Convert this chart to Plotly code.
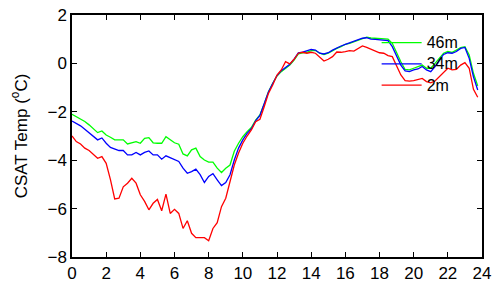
import numpy as np
import plotly.graph_objects as go

hours = [i * 0.25 for i in range(96)]

t46 = [-2.1, -2.2, -2.31, -2.4, -2.54, -2.72, -2.86, -2.79, -2.96, -3.05, -3.16, -3.16,
       -3.16, -3.33, -3.28, -3.23, -3.3, -3.1, -3.07, -3.28, -3.3, -3.3, -3.03, -3.16,
       -3.28, -3.34, -3.74, -3.82, -3.57, -3.5, -3.85, -3.99, -4.08, -4.08, -4.33, -4.51,
       -4.33, -4.2, -3.63, -3.3, -3.03, -2.82, -2.65, -2.34, -2.13, -1.68, -1.17, -0.82,
       -0.52, -0.34, -0.2, -0.07, 0.14, 0.39, 0.44, 0.46, 0.53, 0.53, 0.42, 0.37,
       0.42, 0.53, 0.62, 0.69, 0.79, 0.83, 0.9, 0.97, 1.04, 1.08, 1.05, 1.04,
       1.02, 1.04, 1.0, 0.83, 0.42, 0.07, -0.25, -0.27, -0.2, -0.13, -0.07, -0.2,
       -0.2, 0.0, 0.21, 0.42, 0.49, 0.46, 0.55, 0.65, 0.69, 0.35, -0.41, -0.93]

t34 = [-2.38, -2.47, -2.58, -2.72, -2.86, -3.03, -3.16, -3.08, -3.3, -3.47, -3.55, -3.6,
       -3.6, -3.78, -3.78, -3.68, -3.78, -3.68, -3.62, -3.78, -3.78, -3.96, -3.82, -3.89,
       -3.96, -4.05, -4.33, -4.54, -4.47, -4.37, -4.6, -4.92, -4.67, -4.56, -4.81, -5.05,
       -4.92, -4.6, -3.99, -3.5, -3.16, -2.89, -2.7, -2.37, -2.15, -1.7, -1.18, -0.83,
       -0.5, -0.3, -0.17, -0.04, 0.18, 0.44, 0.47, 0.53, 0.58, 0.55, 0.42, 0.39,
       0.44, 0.55, 0.65, 0.72, 0.79, 0.86, 0.9, 0.97, 1.04, 1.06, 1.0, 0.99,
       0.97, 0.97, 0.94, 0.69, 0.31, -0.07, -0.31, -0.34, -0.27, -0.23, -0.13, -0.27,
       -0.34, -0.13, 0.14, 0.37, 0.44, 0.42, 0.49, 0.62, 0.66, 0.21, -0.55, -1.1]

t2 = [-3.0, -3.23, -3.33, -3.5, -3.6, -3.74, -3.92, -3.85, -4.13, -4.8, -5.6, -5.57,
      -5.1, -4.95, -4.75, -4.95, -5.43, -5.7, -6.05, -5.78, -5.62, -6.09, -5.4, -6.2,
      -6.03, -6.2, -6.82, -6.5, -7.02, -7.2, -7.2, -7.2, -7.33, -6.82, -6.58, -5.92,
      -5.57, -4.88, -4.2, -3.7, -3.3, -3.0, -2.75, -2.41, -2.31, -1.79, -1.24, -0.89,
      -0.48, -0.27, 0.07, -0.02, 0.17, 0.42, 0.46, 0.42, 0.46, 0.42, 0.25, 0.1,
      0.17, 0.28, 0.47, 0.46, 0.49, 0.53, 0.51, 0.6, 0.72, 0.66, 0.58, 0.51,
      0.44, 0.42, 0.32, 0.28, -0.13, -0.48, -0.71, -0.73, -0.71, -0.66, -0.62, -0.75,
      -0.8, -0.73, -0.55, -0.34, -0.2, -0.27, -0.25, -0.07, 0.03, -0.2, -1.07, -1.4]

names = ["46m", "34m", "2m"]
colors = ["#00ff00", "#0000ff", "#ff0000"]
values = [t46, t34, t2]
xticks = list(range(0, 25, 2))
yticks = [-8, -6, -4, -2, 0, 2]

fig = go.Figure()
for name, vals, col in zip(names, values, colors):
    fig.add_trace(go.Scatter(x=hours, y=vals, mode="lines",
                             name="<span style='font-size:16px'>%s</span>" % name,
                             line=dict(color=col, width=1.3)))

axis_common = dict(showgrid=False, zeroline=False, showline=True, linecolor="black",
                   linewidth=1.5, mirror="ticks", ticks="inside", ticklen=5,
                   tickcolor="black", tickwidth=1, automargin=False,
                   tickfont=dict(family="Liberation Sans, Arial", size=17, color="black"))

fig.update_xaxes(range=[0, 24], tickvals=xticks, **axis_common)
fig.update_yaxes(range=[-8, 2], tickvals=yticks,
                 title=dict(text="CSAT Temp (<sup>o</sup>C)", standoff=16,
                            font=dict(family="Liberation Sans, Arial", size=17, color="black")),
                 **axis_common)

fig.update_layout(
    width=493, height=287,
    margin=dict(l=72, r=11, t=15, b=30),
    plot_bgcolor="white", paper_bgcolor="white",
    showlegend=True,
    legend=dict(x=0.743, y=0.95, xanchor="left", yanchor="top",
                bgcolor="rgba(0,0,0,0)", borderwidth=0,
                font=dict(family="Liberation Sans, Arial", size=14, color="black"),
                tracegroupgap=0, itemwidth=40),
)

fig.write_html("out.html", config={"displayModeBar": False},
               post_script="document.body.style.margin='0';document.body.style.overflow='hidden';")
